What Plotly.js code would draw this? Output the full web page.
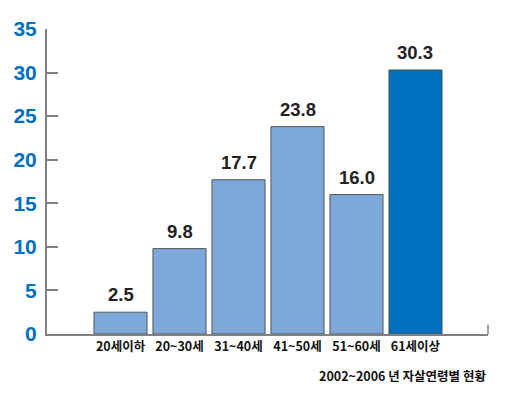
<!DOCTYPE html>
<html><head><meta charset="utf-8">
<script src="https://cdn.plot.ly/plotly-3.0.1.min.js"></script>
<style>html,body{margin:0;padding:0;background:#fff}</style>
</head><body>
<div id="chart" style="width:510px;height:395px"></div>
<script>
const categories = ['20세이하', '20~30세', '31~40세', '41~50세', '51~60세', '61세이상'];
const values = [2.5, 9.8, 17.7, 23.8, 16.0, 30.3];
const valueLabels = ['2.5', '9.8', '17.7', '23.8', '16.0', '30.3'];
const barColors = ['#7FA8DA', '#7FA8DA', '#7FA8DA', '#7FA8DA', '#7FA8DA', '#0070C0'];
const yTicks = [0, 5, 10, 15, 20, 25, 30, 35];
const caption = '2002~2006 년 자살연령별 현황';

const trace = {
  type: 'bar', x: categories, y: values,
  marker: {color: barColors, line: {color: '#555555', width: 1}},
  hoverinfo: 'none'
};
const valueAnnotations = categories.map((c, i) => ({
  x: c, y: values[i], xref: 'x', yref: 'y', text: valueLabels[i],
  showarrow: false, xanchor: 'center', yanchor: 'bottom', yshift: 5,
  font: {family: 'Liberation Sans, Arial, sans-serif', size: 18.5, color: '#222222', weight: 'bold'}
}));
const layout = {
  width: 510, height: 395,
  margin: {l: 47, r: 22, t: 29, b: 61},
  paper_bgcolor: '#ffffff', plot_bgcolor: '#ffffff',
  showlegend: false, bargap: 0.1,
  xaxis: {
    range: [-1.246, 6.229], showgrid: false, zeroline: false,
    showline: true, linecolor: '#808080', linewidth: 2,
    ticks: '', tickfont: {family: 'Noto Sans CJK KR, sans-serif', size: 12.5, color: '#111111', weight: 'bold'}
  },
  yaxis: {
    range: [0, 35], tickvals: yTicks, showgrid: false, zeroline: false,
    showline: true, linecolor: '#808080', linewidth: 2,
    ticks: 'inside', ticklen: 11, tickcolor: '#808080', tickwidth: 2,
    ticklabelstandoff: 4,
    tickfont: {family: 'Liberation Sans, Arial, sans-serif', size: 21, color: '#0070C0', weight: 'bold'}
  },
  shapes: [{type: 'line', xref: 'paper', yref: 'paper', x0: 1, x1: 1, y0: 0, y1: 0.03, line: {color: '#808080', width: 1.5}}],
  annotations: valueAnnotations.concat([{
    text: caption, xref: 'paper', yref: 'paper', x: 1, y: -0.135, xanchor: 'right', yanchor: 'middle',
    showarrow: false, font: {family: 'Noto Sans CJK KR, sans-serif', size: 12.5, color: '#111111', weight: 'bold'}
  }])
};
Plotly.newPlot('chart', [trace], layout, {displayModeBar: false, staticPlot: true});
</script>
</body></html>
